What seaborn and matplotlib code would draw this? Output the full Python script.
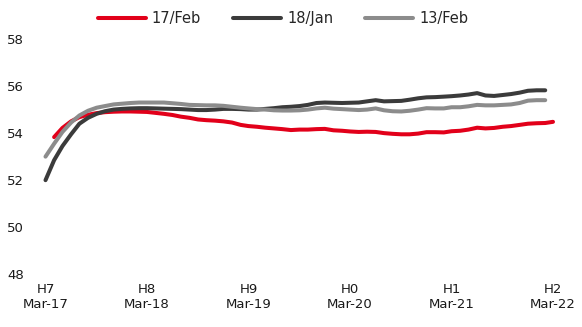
import matplotlib
matplotlib.use("Agg")
import matplotlib.pyplot as plt
import numpy as np
import pandas as pd
import seaborn as sns

# Series labels and colours
series_names = ["17/Feb", "18/Jan", "13/Feb"]
series_colors = ["#E2001A", "#3B3B3B", "#8C8C8C"]

# Monthly values (18/Jan and 13/Feb start Mar-17, 17/Feb starts Apr-17)
jan18 = [52.0, 52.85, 53.45, 53.95, 54.4, 54.65, 54.82, 54.93, 55.0, 55.03,
         55.05, 55.06, 55.06, 55.05, 55.04, 55.03, 55.02, 55.0, 54.98, 54.98,
         55.0, 55.03, 55.03, 55.02, 55.0, 55.0, 55.03, 55.06, 55.1, 55.12,
         55.15, 55.2, 55.28, 55.3, 55.29, 55.28, 55.29, 55.3, 55.35, 55.4,
         55.35, 55.36, 55.37, 55.42, 55.48, 55.52, 55.53, 55.55, 55.57, 55.6,
         55.64, 55.7, 55.6, 55.58, 55.62, 55.66, 55.72, 55.8, 55.82, 55.82]
feb13 = [53.0, 53.55, 54.05, 54.45, 54.75, 54.95, 55.08, 55.15, 55.22, 55.25,
         55.28, 55.3, 55.3, 55.3, 55.3, 55.27, 55.24, 55.2, 55.19, 55.18,
         55.18, 55.16, 55.12, 55.08, 55.05, 55.02, 55.0, 54.97, 54.96, 54.96,
         54.97, 55.0, 55.05, 55.08, 55.04, 55.02, 55.0, 54.98, 55.0, 55.05,
         54.97, 54.93, 54.92, 54.95, 55.0, 55.06, 55.05, 55.05, 55.1, 55.1,
         55.14, 55.2, 55.18, 55.18, 55.2, 55.22, 55.28, 55.38, 55.4, 55.4]
feb17 = [53.83, 54.22, 54.5, 54.68, 54.78, 54.85, 54.89, 54.91, 54.92, 54.92,
         54.91, 54.9, 54.86, 54.82, 54.77, 54.7, 54.65, 54.58, 54.55, 54.53,
         54.5, 54.45, 54.35, 54.3, 54.27, 54.23, 54.2, 54.17, 54.13, 54.15,
         54.15, 54.17, 54.18, 54.12, 54.1, 54.07, 54.05, 54.06, 54.05, 54.0,
         53.97, 53.95, 53.95, 53.98, 54.04, 54.04, 54.03, 54.08, 54.1, 54.15,
         54.23, 54.2, 54.22, 54.27, 54.3, 54.35, 54.4, 54.42, 54.43, 54.48]

# Axis labels
tick_codes = ["H7", "H8", "H9", "H0", "H1", "H2"]
tick_months = ["Mar-17", "Mar-18", "Mar-19", "Mar-20", "Mar-21", "Mar-22"]
y_ticks = [48, 50, 52, 54, 56, 58]

dates_main = pd.date_range("2017-03-01", periods=len(jan18), freq="MS")
dates_red = pd.date_range("2017-04-01", periods=len(feb17), freq="MS")

df = pd.concat([
    pd.DataFrame({"date": dates_red, "value": feb17, "series": series_names[0]}),
    pd.DataFrame({"date": dates_main, "value": jan18, "series": series_names[1]}),
    pd.DataFrame({"date": dates_main, "value": feb13, "series": series_names[2]}),
], ignore_index=True)

sns.set_theme(style="white")
plt.rcParams["font.family"] = ["DejaVu Sans"]

W, H = 582, 327
fig = plt.figure(figsize=(W / 100, H / 100), dpi=100)
x0, x1 = 45.5, 553.0
y_top, y_bot = 39.0, 274.3
ax = fig.add_axes([x0 / W, (H - y_bot) / H, (x1 - x0) / W, (y_bot - y_top) / H])

sns.lineplot(data=df, x="date", y="value", hue="series",
             hue_order=series_names, palette=series_colors,
             linewidth=2.9, solid_capstyle="round", clip_on=False, ax=ax)

ax.set_xlim(pd.Timestamp("2017-03-01"), pd.Timestamp("2022-03-01"))
ax.set_ylim(48, 58)
tick_dates = pd.date_range("2017-03-01", periods=len(tick_codes), freq="12MS")
ax.set_xticks(tick_dates)
ax.set_xticklabels([f"{c}\n{m}" for c, m in zip(tick_codes, tick_months)],
                   fontsize=9.5, color="#1a1a1a")
ax.set_yticks(y_ticks)
ax.set_yticklabels([str(v) for v in y_ticks], fontsize=9.5, color="#1a1a1a")
ax.tick_params(axis="x", length=0, pad=6)
ax.tick_params(axis="y", length=0, pad=15.5)
ax.set_xlabel("")
ax.set_ylabel("")
ax.grid(False)
for s in ax.spines.values():
    s.set_visible(False)

handles, labels = ax.get_legend_handles_labels()
ax.get_legend().remove()
fig.legend(handles, labels, loc="center", bbox_to_anchor=(283 / W, 1 - 19 / H),
           ncol=3, frameon=False, fontsize=10.5, handlelength=3.3,
           handletextpad=0.4, columnspacing=2.2)

fig.savefig("out.png", dpi=100, facecolor="white")
